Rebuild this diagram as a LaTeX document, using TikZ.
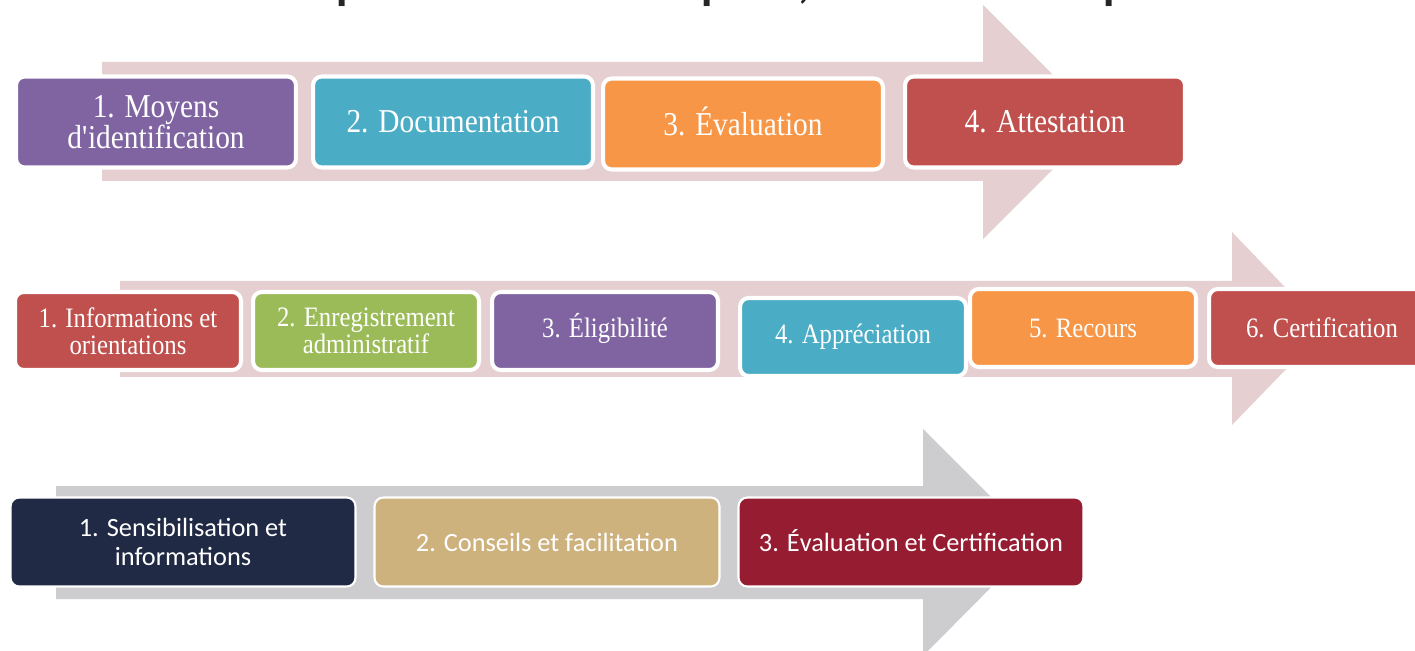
\documentclass[tikz,border=0pt]{standalone}
\usepackage{fontspec}
\setmainfont{Liberation Serif}[FakeStretch=0.88]
\newfontfamily\calibri{Carlito}

\definecolor{arrowpink}{RGB}{230,207,208}
\definecolor{arrowgrey}{RGB}{205,205,207}
\definecolor{titlegrey}{RGB}{38,38,38}
\definecolor{ipurple}{RGB}{128,100,162}
\definecolor{iteal}{RGB}{75,172,198}
\definecolor{iorange}{RGB}{247,150,70}
\definecolor{ired}{RGB}{192,80,77}
\definecolor{igreen}{RGB}{155,187,89}
\definecolor{inavy}{RGB}{33,42,69}
\definecolor{itan}{RGB}{206,178,126}
\definecolor{iwine}{RGB}{150,28,49}

\tikzset{
  ue/.style={rectangle, rounded corners=5pt, draw=white, line width=2.3pt, text=white,
    inner sep=0pt, minimum width=5.6cm, minimum height=1.82cm, align=center,
    font=\fontsize{19}{17.6}\selectfont},
  cnb/.style={ue, minimum width=4.52cm, minimum height=1.56cm,
    font=\fontsize{16}{15.3}\selectfont},
  rac/.style={ue, line width=1.2pt, minimum width=6.9cm, minimum height=1.78cm,
    font=\calibri\fontsize{15}{17}\selectfont},
}

\begin{document}
\begin{tikzpicture}[x=0.02cm, y=-0.02cm]
      \clip (0,0) rectangle (1415,651);
      \fill[white] (0,0) rectangle (1415,651);

      % titre coupe en haut
      \node[anchor=base west, inner sep=0pt, text=titlegrey, font=\calibri\fontsize{39}{40}\selectfont] (titre) at (22,-4) {Union européenne 4 étapes, CNB 6 étapes ou 3 étapes};

      % fleches de fond
      \fill[arrowpink] (102,62) -- (983,62) -- (983,5) -- (1100,122) -- (983,239) -- (983,181) -- (102,181) -- cycle;
      \fill[arrowpink] (120,281) -- (1232,281) -- (1232,232) -- (1325,329) -- (1232,425) -- (1232,377) -- (120,377) -- cycle;
      \fill[arrowgrey] (56,486) -- (923,486) -- (923,429) -- (1036,542) -- (923,656) -- (923,599) -- (56,599) -- cycle;

      % Union europeenne
      \node[ue, fill=ipurple](UE1) at (156,122) {1. Moyens\\d\textquotesingle identification};
      \node[ue, fill=iteal](UE2) at (453,122) {2. Documentation};
      \node[ue, fill=iorange](UE3) at (743,124) {3. \smash{É}valuation};
      \node[ue, fill=ired](UE4) at (1045,122) {4. Attestation};

      % CNB
      \node[cnb, fill=ired](CNB1) at (128,331) {1. Informations et\\orientations};
      \node[cnb, fill=igreen](CNB2) at (366,331) {2. Enregistrement\\administratif};
      \node[cnb, fill=ipurple](CNB3) at (605,331) {3. \smash{É}ligibilité};
      \node[cnb, fill=iteal](CNB4) at (853,337) {4. Appréciation};
      \node[cnb, fill=iorange](CNB5) at (1083,328) {5. Recours};
      \node[cnb, fill=ired](CNB6) at (1322,328) {6. Certification};

      % 3 etapes
      \node[rac, fill=inavy](R1) at (183,542) {1. Sensibilisation et\\informations};
      \node[rac, fill=itan](R2) at (547,542) {2. Conseils et facilitation};
      \node[rac, fill=iwine](R3) at (911,542) {3. \smash{É}valuation et Certification};
    \end{tikzpicture}
\end{document}
